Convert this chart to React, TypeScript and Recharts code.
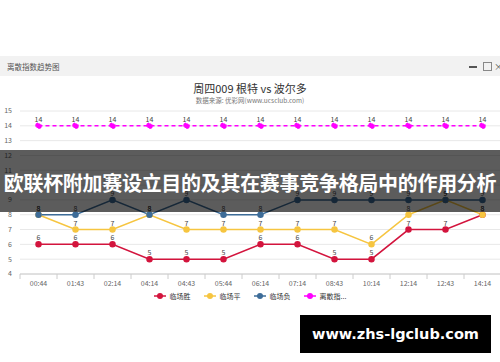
import React from "react";
import { LineChart, Line, XAxis, YAxis, CartesianGrid, Legend, LabelList } from "recharts";

const times = ["00:44", "01:43", "02:14", "04:14", "04:43", "05:44", "06:14", "07:14", "08:43", "10:14", "12:14", "12:43", "14:14"];
const homeWin = [6, 6, 6, 5, 5, 5, 6, 6, 5, 5, 7, 7, 8];
const draw = [8, 7, 7, 8, 7, 7, 7, 7, 7, 6, 8, 9, 8];
const awayWin = [8, 8, 9, 8, 9, 8, 8, 9, 9, 9, 9, 9, 9];
const dispersion = [14, 14, 14, 14, 14, 14, 14, 14, 14, 14, 14, 14, 14];
const yTicks = [4, 5, 6, 7, 8, 9, 10, 11, 12, 13, 14, 15];

const seriesNames = ["临场胜", "临场平", "临场负", "离散指..."];
const colors = ["#d3143d", "#f6c540", "#3d6c98", "#ff00ff"];

const data = times.map((t, i) => ({
  t,
  win: homeWin[i],
  draw: draw[i],
  lose: awayWin[i],
  disp: dispersion[i],
}));

const CHART_W = 520;
const Y_W = 20;
const M_RIGHT = 19;
const BAND = (CHART_W - Y_W - M_RIGHT) / times.length;

const font = '"Noto Sans CJK SC", "Noto Sans", sans-serif';

const XTick = (props: any) => {
  const { x, y, payload } = props;
  return (
    <g>
      <line x1={x - BAND / 2} x2={x - BAND / 2} y1={y} y2={y + 5} stroke="#cccccc" />
      <text x={x} y={y + 12} textAnchor="middle" fontSize={7} fill="#666" fontFamily={font}>
        {payload.value}
      </text>
    </g>
  );
};

const LegendContent = () => (
  <div style={{ display: "flex", justifyContent: "center", gap: 13, fontFamily: font, fontSize: 7, color: "#333" }}>
    {seriesNames.map((n, i) => (
      <div key={n} style={{ display: "flex", alignItems: "center" }}>
        <svg width={12} height={8} style={{ marginRight: 4 }}>
          <line x1={0} x2={12} y1={4} y2={4} stroke={colors[i]} strokeWidth={1.5} />
          <circle cx={6} cy={4} r={3} fill={colors[i]} />
        </svg>
        <span>{n}</span>
      </div>
    ))}
  </div>
);

const labelProps = { position: "top" as const, offset: 4, fontSize: 7, fill: "#444", fontFamily: font };

export default function App() {
  return (
    <div style={{ position: "absolute", left: 0, top: 0, width: 500, height: 362, overflow: "hidden", background: "#fff", fontFamily: font }}>
      {/* window header */}
      <div style={{ position: "absolute", left: 0, top: 56, width: 500, height: 20, background: "#f2f2f2" }} />
      <div style={{ position: "absolute", left: 7, top: 61, fontSize: 7.5, color: "#555" }}>离散指数趋势图</div>
      <div style={{ position: "absolute", left: 469, top: 66, width: 8, height: 1.5, background: "#555" }} />
      <div style={{ position: "absolute", left: 483, top: 62, width: 7, height: 7, border: "1px solid #888" }} />
      <div style={{ position: "absolute", left: 494, top: 60, fontSize: 9, color: "#555" }}>×</div>
      {/* titles */}
      <div style={{ position: "absolute", left: 0, top: 80, width: 500, textAlign: "center", fontSize: 11, color: "#333" }}>
        周四009 根特 vs 波尔多
      </div>
      <div style={{ position: "absolute", left: 0, top: 95, width: 500, textAlign: "center", fontSize: 6.5, color: "#777" }}>
        数据来源: 优彩网(www.ucsclub.com)
      </div>
      <div style={{ position: "absolute", left: 0, top: 0 }}>
        <LineChart width={CHART_W} height={362} data={data} margin={{ top: 111, right: M_RIGHT, bottom: 0, left: 0 }}>
          <CartesianGrid horizontal vertical={false} stroke="#e8e8e8" />
          <XAxis
            dataKey="t"
            scale="band"
            height={88}
            tickSize={0}
            tickMargin={0}
            tickLine={false}
            stroke="#cccccc"
            tick={<XTick />}
            interval={0}
          />
          <YAxis
            width={Y_W}
            domain={[4, 15]}
            ticks={yTicks}
            interval={0}
            axisLine={false}
            tickLine={false}
            tick={{ fontSize: 7, fill: "#666" }}
          />
          <Legend
            layout="horizontal"
            verticalAlign="middle"
            align="center"
            wrapperStyle={{ top: 291, left: 0, width: 500, height: 12 }}
            content={<LegendContent />}
          />
          <Line dataKey="win" name={seriesNames[0]} stroke={colors[0]} strokeWidth={1.5} dot={{ r: 2.5, fill: colors[0], stroke: colors[0] }} isAnimationActive={false}>
            <LabelList dataKey="win" {...labelProps} />
          </Line>
          <Line dataKey="draw" name={seriesNames[1]} stroke={colors[1]} strokeWidth={1.5} dot={{ r: 2.5, fill: colors[1], stroke: colors[1] }} isAnimationActive={false}>
            <LabelList dataKey="draw" {...labelProps} />
          </Line>
          <Line dataKey="lose" name={seriesNames[2]} stroke={colors[2]} strokeWidth={1.5} dot={{ r: 2.5, fill: colors[2], stroke: colors[2] }} isAnimationActive={false}>
            <LabelList dataKey="lose" {...labelProps} />
          </Line>
          <Line dataKey="disp" name={seriesNames[3]} stroke={colors[3]} strokeWidth={1.5} strokeDasharray="4 3" dot={{ r: 2.5, fill: colors[3], stroke: colors[3] }} isAnimationActive={false}>
            <LabelList dataKey="disp" {...labelProps} />
          </Line>
        </LineChart>
      </div>
      {/* overlay banner */}
      <div style={{ position: "absolute", left: 0, top: 150, width: 500, height: 62, background: "rgba(0,0,0,0.64)" }} />
      <div style={{ position: "absolute", left: 0, top: 168, width: 500, textAlign: "center", fontSize: 20, letterSpacing: -0.3, fontWeight: 700, color: "#fff", whiteSpace: "nowrap", lineHeight: "30px" }}>
        欧联杯附加赛设立目的及其在赛事竞争格局中的作用分析
      </div>
      <div style={{ position: "absolute", left: 300, top: 315, width: 191, height: 38, background: "#000", color: "#fff", display: "flex", alignItems: "center", justifyContent: "center", fontFamily: '"DejaVu Sans", sans-serif', fontWeight: 700, fontSize: 14.5 }}>
        www.zhs-lgclub.com
      </div>
    </div>
  );
}
